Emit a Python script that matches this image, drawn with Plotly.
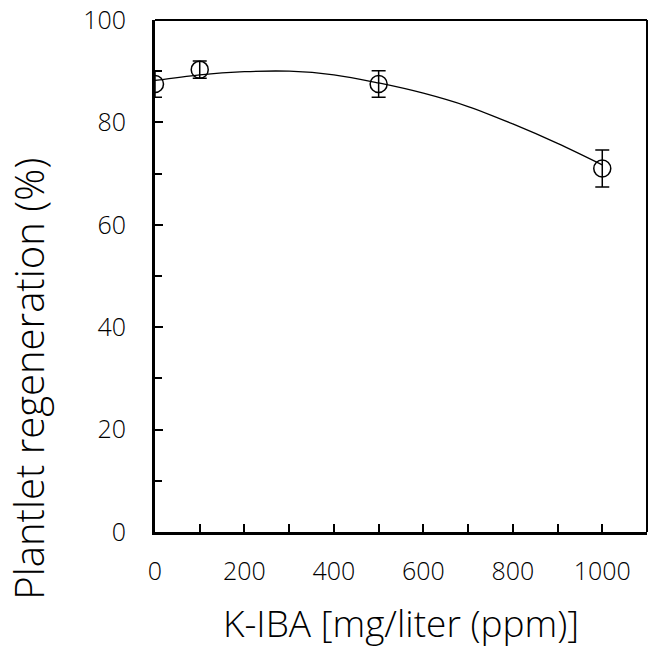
import plotly.graph_objects as go

# Observed data points (K-IBA concentration vs plantlet regeneration %)
conc = [0, 100, 500, 1000]
regen = [87.5, 90.3, 87.5, 71.0]
err = [2.6, 1.7, 2.6, 3.6]

# Trend curve
curve_x = [0, 100, 200, 300, 400, 500, 600, 700, 800, 900, 1000]
curve_y = [88.2, 89.3, 89.9, 90.0, 89.3, 87.7, 85.7, 83.1, 79.7, 75.9, 71.7]

x_ticks = [0, 200, 400, 600, 800, 1000]
y_ticks = [0, 20, 40, 60, 80, 100]

FONT = "Open Sans"

fig = go.Figure()
fig.add_trace(go.Scatter(
    x=curve_x, y=curve_y, mode="lines", line=dict(color="black", width=1.3, shape="spline"),
    hoverinfo="skip", showlegend=False))
fig.add_trace(go.Scatter(
    x=conc, y=regen, mode="markers",
    marker=dict(symbol="circle-open", size=17, color="black", line=dict(width=1.5)),
    error_y=dict(type="data", array=err, color="black", thickness=1.5, width=7),
    showlegend=False))

fig.update_layout(
    width=649, height=648,
    margin=dict(l=155, r=2, t=20, b=116),
    paper_bgcolor="white", plot_bgcolor="white",
    font=dict(family=FONT, color="#000000", weight=300),
    showlegend=False,
)
fig.update_xaxes(
    range=[0, 1100], tickvals=x_ticks, ticktext=[str(v) for v in x_ticks],
    ticks="inside", ticklen=8, tickwidth=1.5, tickcolor="black",
    minor=dict(dtick=100, tick0=0, ticks="inside", ticklen=8, tickwidth=1.5, tickcolor="black"),
    showline=True, linecolor="black", linewidth=3, showgrid=False, zeroline=False,
    tickfont=dict(size=25, family=FONT, weight=300, color="#000000"), ticklabelstandoff=15,
    title=dict(text="K-IBA [mg/liter (ppm)]", font=dict(size=37, family=FONT, weight=300, color="#000000"), standoff=27),
)
fig.update_yaxes(
    range=[0, 100], tickvals=y_ticks, ticktext=[str(v) for v in y_ticks],
    ticks="inside", ticklen=8, tickwidth=1.5, tickcolor="black",
    minor=dict(dtick=10, tick0=0, ticks="inside", ticklen=7, tickwidth=1.5, tickcolor="black"),
    showline=True, linecolor="black", linewidth=3, showgrid=False, zeroline=False,
    tickfont=dict(size=25, family=FONT, weight=300, color="#000000"), ticklabelstandoff=21,
)
# thin top and right frame lines
fig.add_shape(type="line", xref="paper", yref="paper", x0=0, x1=1, y0=1, y1=1,
              line=dict(color="black", width=2))
fig.add_shape(type="line", xref="paper", yref="paper", x0=1, x1=1, y0=0, y1=1,
              line=dict(color="black", width=2))

fig.add_annotation(
    text="Plantlet regeneration (%)", textangle=-90, showarrow=False,
    xref="paper", yref="paper", x=-0.257, y=-0.137, xanchor="center", yanchor="bottom",
    font=dict(size=40, family=FONT, color="#000000", weight=300))

fig.write_html("out.html")
